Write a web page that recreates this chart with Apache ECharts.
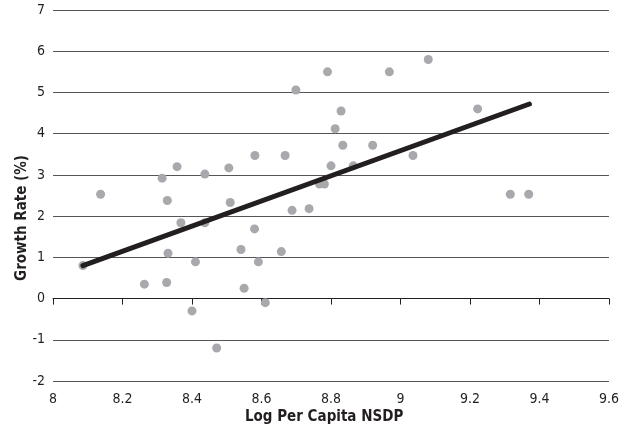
<!DOCTYPE html>
<html>
<head>
<meta charset="utf-8">
<script src="https://cdn.jsdelivr.net/npm/echarts@6/dist/echarts.min.js"></script>
<style>
html,body{margin:0;padding:0;background:#fff;}
#chart{width:622px;height:431px;}
</style>
</head>
<body>
<div id="chart"></div>
<script>
var logNSDP = [8.086, 8.137, 8.263, 8.314, 8.329, 8.357, 8.331, 8.327, 8.368, 8.437, 8.437, 8.41, 8.40, 8.471, 8.506, 8.51, 8.541, 8.55, 8.58, 8.581, 8.591, 8.611, 8.657, 8.668, 8.688, 8.699, 8.737, 8.767, 8.781, 8.79, 8.829, 8.812, 8.834, 8.8, 8.864, 8.92, 8.968, 9.08, 9.036, 9.222, 9.316, 9.369];
var growthRate = [0.8, 2.53, 0.35, 2.92, 2.38, 3.2, 1.1, 0.39, 1.84, 3.02, 1.84, 0.89, -0.3, -1.2, 3.17, 2.33, 1.19, 0.25, 1.69, 3.47, 0.89, -0.1, 1.14, 3.47, 2.14, 5.06, 2.18, 2.78, 2.78, 5.5, 4.55, 4.12, 3.72, 3.22, 3.22, 3.72, 5.5, 5.8, 3.47, 4.6, 2.53, 2.53];
var trendX = [8.086, 9.371];
var trendY = [0.8, 4.72];
var xTicks = {min: 8, max: 9.6, interval: 0.2};
var yTicks = {min: -2, max: 7, interval: 1};
var xTitle = 'Log Per Capita NSDP';
var yTitle = 'Growth Rate (%)';

var scatterData = logNSDP.map(function(x, i){ return [x, growthRate[i]]; });
var trendData = trendX.map(function(x, i){ return [x, trendY[i]]; });
var font = '"DejaVu Sans Condensed", "Open Sans", sans-serif';

var chart = echarts.init(document.getElementById('chart'), null, {renderer: 'canvas'});
chart.setOption({
  animation: false,
  backgroundColor: '#fff',
  grid: {left: 53, right: 8, top: 10, bottom: 50, containLabel: false},
  xAxis: {
    type: 'value', min: xTicks.min, max: xTicks.max, interval: xTicks.interval,
    axisLine: {show: true, lineStyle: {color: '#231f20', width: 1}},
    axisTick: {show: true, inside: false, length: 6, lineStyle: {color: '#231f20'}},
    axisLabel: {fontFamily: font, fontSize: 14, color: '#231f20', margin: 11,
      formatter: function(v){ return String(+v.toFixed(1)); }},
    splitLine: {show: false}
  },
  yAxis: {
    type: 'value', min: yTicks.min, max: yTicks.max, interval: yTicks.interval,
    axisLine: {show: false},
    axisTick: {show: false},
    axisLabel: {fontFamily: font, fontSize: 14, color: '#231f20', margin: 8},
    splitLine: {show: true, lineStyle: {color: '#555', width: 1}}
  },
  graphic: [
    {type: 'text', left: 245, top: 410,
     style: {text: xTitle, font: 'bold 15px ' + font, fill: '#231f20'}},
    {type: 'text', x: 22, y: 218, rotation: Math.PI / 2,
     style: {text: yTitle, font: 'bold 15px ' + font, fill: '#231f20', align: 'center', verticalAlign: 'middle'}}
  ],
  series: [
    {type: 'scatter', data: scatterData, symbol: 'circle', symbolSize: 9,
     itemStyle: {color: '#a7a9ac', opacity: 1}, z: 2},
    {type: 'line', data: trendData, symbol: 'none', z: 3,
     lineStyle: {color: '#231f20', width: 5, cap: 'round'}}
  ]
});
</script>
</body>
</html>
